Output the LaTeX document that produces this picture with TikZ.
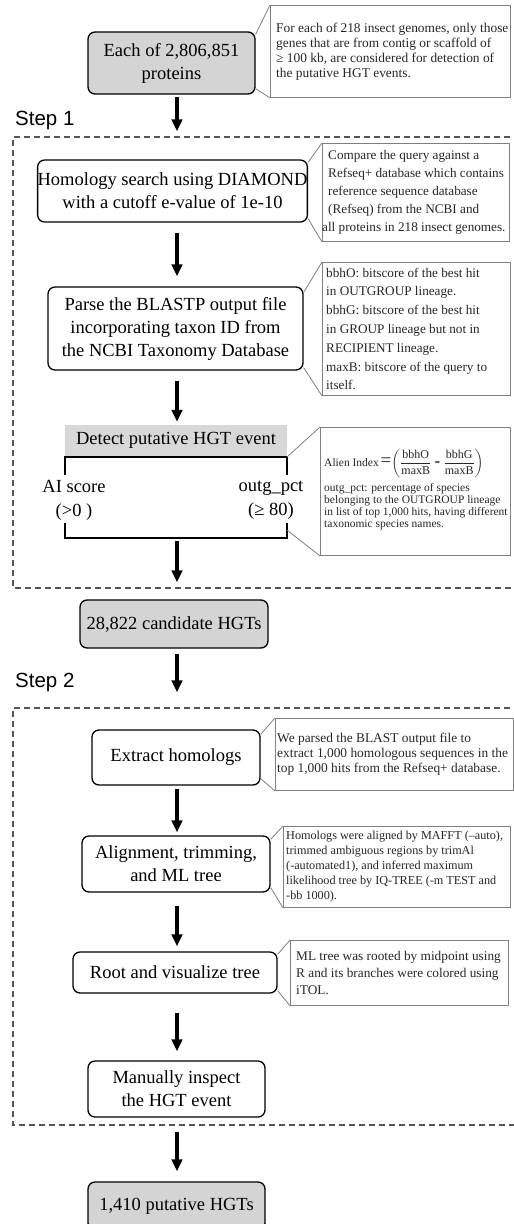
\documentclass[tikz,border=0pt]{standalone}
\usepackage{amsmath}
\usepackage{fontspec}
\setmainfont{Liberation Serif}
\setsansfont{Liberation Sans}
\usetikzlibrary{arrows.meta}

\definecolor{fundocinza}{RGB}{212,212,212}
\definecolor{cabecalho}{RGB}{216,216,216}
\definecolor{bordanota}{RGB}{128,128,128}
\definecolor{tracejado}{RGB}{85,85,85}

\begin{document}
\begin{tikzpicture}[x=1pt, y=-1pt,
	caixa/.style={draw=black, line width=1.3pt, rounded corners=7pt, align=center, inner sep=0pt, font=\fontsize{18.5}{23}\selectfont},
	caixacinza/.style={caixa, fill=fundocinza},
	nota/.style={draw=bordanota, line width=0.9pt, anchor=north west, inner sep=0pt},
	notatexto/.style={anchor=west, inner sep=0pt, align=left, text=black!85},
	cunha/.style={draw=bordanota, line width=0.8pt},
	seta/.style={line width=3.2pt, -{Triangle[length=12pt, width=10.5pt]}},
	etapa/.style={draw=tracejado, line width=1.2pt, dash pattern=on 6pt off 4pt},
	rotulo/.style={font=\sffamily\fontsize{20.5}{24}\selectfont, anchor=base west, inner sep=0pt}
]
	
	% Area da figura
	\useasboundingbox (0,0) rectangle (514,1224);
	\clip (0,0) rectangle (514,1224);
	\coordinate (eixo) at (177,0);
	
	% Molduras tracejadas das etapas
	\draw[etapa] (530,137) -- (13,137) -- (13,588) -- (530,588);
	\draw[etapa] (530,708) -- (13,708) -- (13,1125) -- (530,1125);
	\node[rotulo] (passo1) at (15,125) {Step 1};
	\node[rotulo] (passo2) at (15,687) {Step 2};
	
	% Caixas do fluxo
	\node[caixacinza, minimum width=167pt, minimum height=62pt] (proteinas) at (171.5,63) {Each of 2,806,851\\proteins};
	\node[caixa, minimum width=269pt, minimum height=62pt] (homologia) at (172.5,191) {Homology search using DIAMOND\\with a cutoff e-value of 1e-10};
	\node[caixa, minimum width=255pt, minimum height=83pt] (parse) at (175.5,328.5) {Parse the BLASTP output file\\incorporating taxon ID from\\the NCBI Taxonomy Database};
	\node[fill=cabecalho, minimum width=222pt, minimum height=31pt, inner sep=0pt, font=\fontsize{18.5}{23}\selectfont] (detectar) at (176,440.5) {Detect putative HGT event};
	\node[minimum width=222pt, minimum height=81pt, inner sep=0pt] (criterios) at (176,497.5) {};
	\node[caixacinza, minimum width=188pt, minimum height=48pt] (candidatos) at (174,624) {28,822 candidate HGTs};
	\node[caixa, minimum width=168pt, minimum height=55pt] (extrair) at (176,757.5) {Extract homologs};
	\node[caixa, minimum width=188pt, minimum height=56pt] (alinhar) at (176,864) {Alignment, trimming,\\and ML tree};
	\node[caixa, minimum width=204pt, minimum height=41pt] (raiz) at (175,972.5) {Root and visualize tree};
	\node[caixa, minimum width=177pt, minimum height=56pt] (inspecionar) at (176.5,1089) {Manually inspect\\the HGT event};
	\node[caixacinza, minimum width=177pt, minimum height=48pt] (putativos) at (176.5,1206) {1,410 putative HGTs};
	
	% Colchete dos criterios
	\draw[line width=1.8pt] ([yshift=-18pt]criterios.north west) -- (criterios.north west) -- (criterios.north east) -- ([yshift=-18pt]criterios.north east);
	\draw[line width=1.8pt] ([yshift=15pt]criterios.south west) -- (criterios.south west) -- (criterios.south east) -- ([yshift=15pt]criterios.south east);
	\node[align=center, inner sep=0pt, font=\fontsize{18.5}{24}\selectfont] (ai) at (74,500) {AI score\\(>0 )};
	\node[align=center, inner sep=0pt, font=\fontsize{18.5}{24}\selectfont] (outg) at (271,500) {outg\_pct\\(≥ 80)};
	
	% Setas
	\draw[seta, shorten <=2pt, shorten >=28pt] (proteinas.south -| eixo) -- (homologia.north -| eixo);
	\draw[seta, shorten <=10pt, shorten >=10pt] (homologia.south -| eixo) -- (parse.north -| eixo);
	\draw[seta, shorten <=10pt, shorten >=3pt] (parse.south -| eixo) -- (detectar.north -| eixo);
	\draw[seta, shorten <=3pt, shorten >=17pt] (criterios.south -| eixo) -- (candidatos.north -| eixo);
	\draw[seta, shorten <=5pt, shorten >=37pt] (candidatos.south -| eixo) -- (extrair.north -| eixo);
	\draw[seta, shorten <=3pt, shorten >=3pt] (extrair.south -| eixo) -- (alinhar.north -| eixo);
	\draw[seta, shorten <=13pt, shorten >=5pt] (alinhar.south -| eixo) -- (raiz.north -| eixo);
	\draw[seta, shorten <=19pt, shorten >=9pt] (raiz.south -| eixo) -- (inspecionar.north -| eixo);
	\draw[seta, shorten <=14pt, shorten >=10pt] (inspecionar.south -| eixo) -- (putativos.north -| eixo);
	
	% Notas explicativas
	\node[nota, minimum width=240pt, minimum height=92pt] (n1) at (270,5) {};
	\node[notatexto, font=\fontsize{13.4}{15}\selectfont] (n1t) at ([xshift=6pt]n1.west) {For each of 218 insect genomes, only those\\genes that are from contig or scaffold of\\≥ 100 kb, are considered for detection of\\the putative HGT events.};
	\node[nota, minimum width=187pt, minimum height=98pt] (n2) at (322,143) {};
	\node[notatexto, font=\fontsize{13.2}{18}\selectfont] (n2t) at ([xshift=6pt]n2.west) {Compare the query against a\\Refseq+ database which contains\\reference sequence database\\(Refseq) from the NCBI and\\\hspace*{-6pt}all proteins in 218 insect genomes.};
	\node[nota, minimum width=188pt, minimum height=133pt] (n3) at (322,262) {};
	\node[notatexto, font=\fontsize{13.2}{18.8}\selectfont] (n3t) at ([xshift=4pt]n3.west) {bbhO: bitscore of the best hit\\in OUTGROUP lineage.\\bbhG: bitscore of the best hit\\in GROUP lineage but not in\\RECIPIENT lineage.\\maxB: bitscore of the query to\\itself.};
	\node[nota, minimum width=190pt, minimum height=128pt] (n4) at (320,427) {};
	\node[notatexto, font=\fontsize{11.5}{12}\selectfont] (n4t) at ([xshift=4pt, yshift=2pt]n4.west) {Alien Index\,{\fontsize{19}{19}\selectfont =}$\left(\dfrac{\text{\fontsize{12}{12}\selectfont bbhO}}{\text{\fontsize{12}{12}\selectfont maxB}}\;\text{\fontsize{17}{17}\selectfont\bfseries -}\;\dfrac{\text{\fontsize{12}{12}\selectfont bbhG}}{\text{\fontsize{12}{12}\selectfont maxB}}\right)$\\[4pt]outg\_pct: percentage of species\\belonging to the OUTGROUP lineage\\in list of top 1,000 hits, having different\\taxonomic species names.};
	\node[nota, minimum width=238pt, minimum height=72pt] (n5) at (275,718) {};
	\node[notatexto, font=\fontsize{13.4}{15}\selectfont] (n5t) at ([xshift=2pt]n5.west) {We parsed the BLAST output file to\\extract 1,000 homologous sequences in the\\top 1,000 hits from the Refseq+ database.};
	\node[nota, minimum width=227pt, minimum height=81pt] (n6) at (283,826) {};
	\node[notatexto, font=\fontsize{12.2}{15}\selectfont] (n6t) at ([xshift=3pt]n6.west) {Homologs were aligned by MAFFT (--auto),\\trimmed ambiguous regions by trimAl\\(-automated1), and inferred maximum\\likelihood tree by IQ-TREE (-m TEST and\\-bb 1000).};
	\node[nota, minimum width=218pt, minimum height=65pt] (n7) at (290,940) {};
	\node[notatexto, font=\fontsize{13.3}{17}\selectfont] (n7t) at ([xshift=6pt]n7.west) {ML tree was rooted by midpoint using\\R and its branches were colored using\\iTOL.};
	
	% Ligacoes das notas
	\draw[cunha] (n1.north west) -- ([yshift=-3pt]proteinas.north east);
	\draw[cunha] (n1.south west) -- ([yshift=6pt]proteinas.south east);
	\draw[cunha] (n2.north west) -- ([yshift=-3pt]homologia.north east);
	\draw[cunha] (n2.south west) -- ([yshift=4pt]homologia.south east);
	\draw[cunha] (n3.north west) -- ([yshift=-6pt]parse.north east);
	\draw[cunha] (n3.south west) -- ([yshift=3pt]parse.south east);
	\draw[cunha] (n4.north west) -- (criterios.north east);
	\draw[cunha] (n4.south west) -- ([yshift=8pt]criterios.south east);
	\draw[cunha] (n5.north west) -- ([yshift=-5pt]extrair.north east);
	\draw[cunha] (n5.south west) -- ([yshift=7pt]extrair.south east);
	\draw[cunha] (n6.north west) -- ([yshift=-4pt]alinhar.north east);
	\draw[cunha] (n6.south west) -- ([yshift=5pt]alinhar.south east);
	\draw[cunha] (n7.north west) -- ([yshift=-3pt]raiz.north east);
	\draw[cunha] (n7.south west) -- ([yshift=3pt]raiz.south east);
\end{tikzpicture}
\end{document}
